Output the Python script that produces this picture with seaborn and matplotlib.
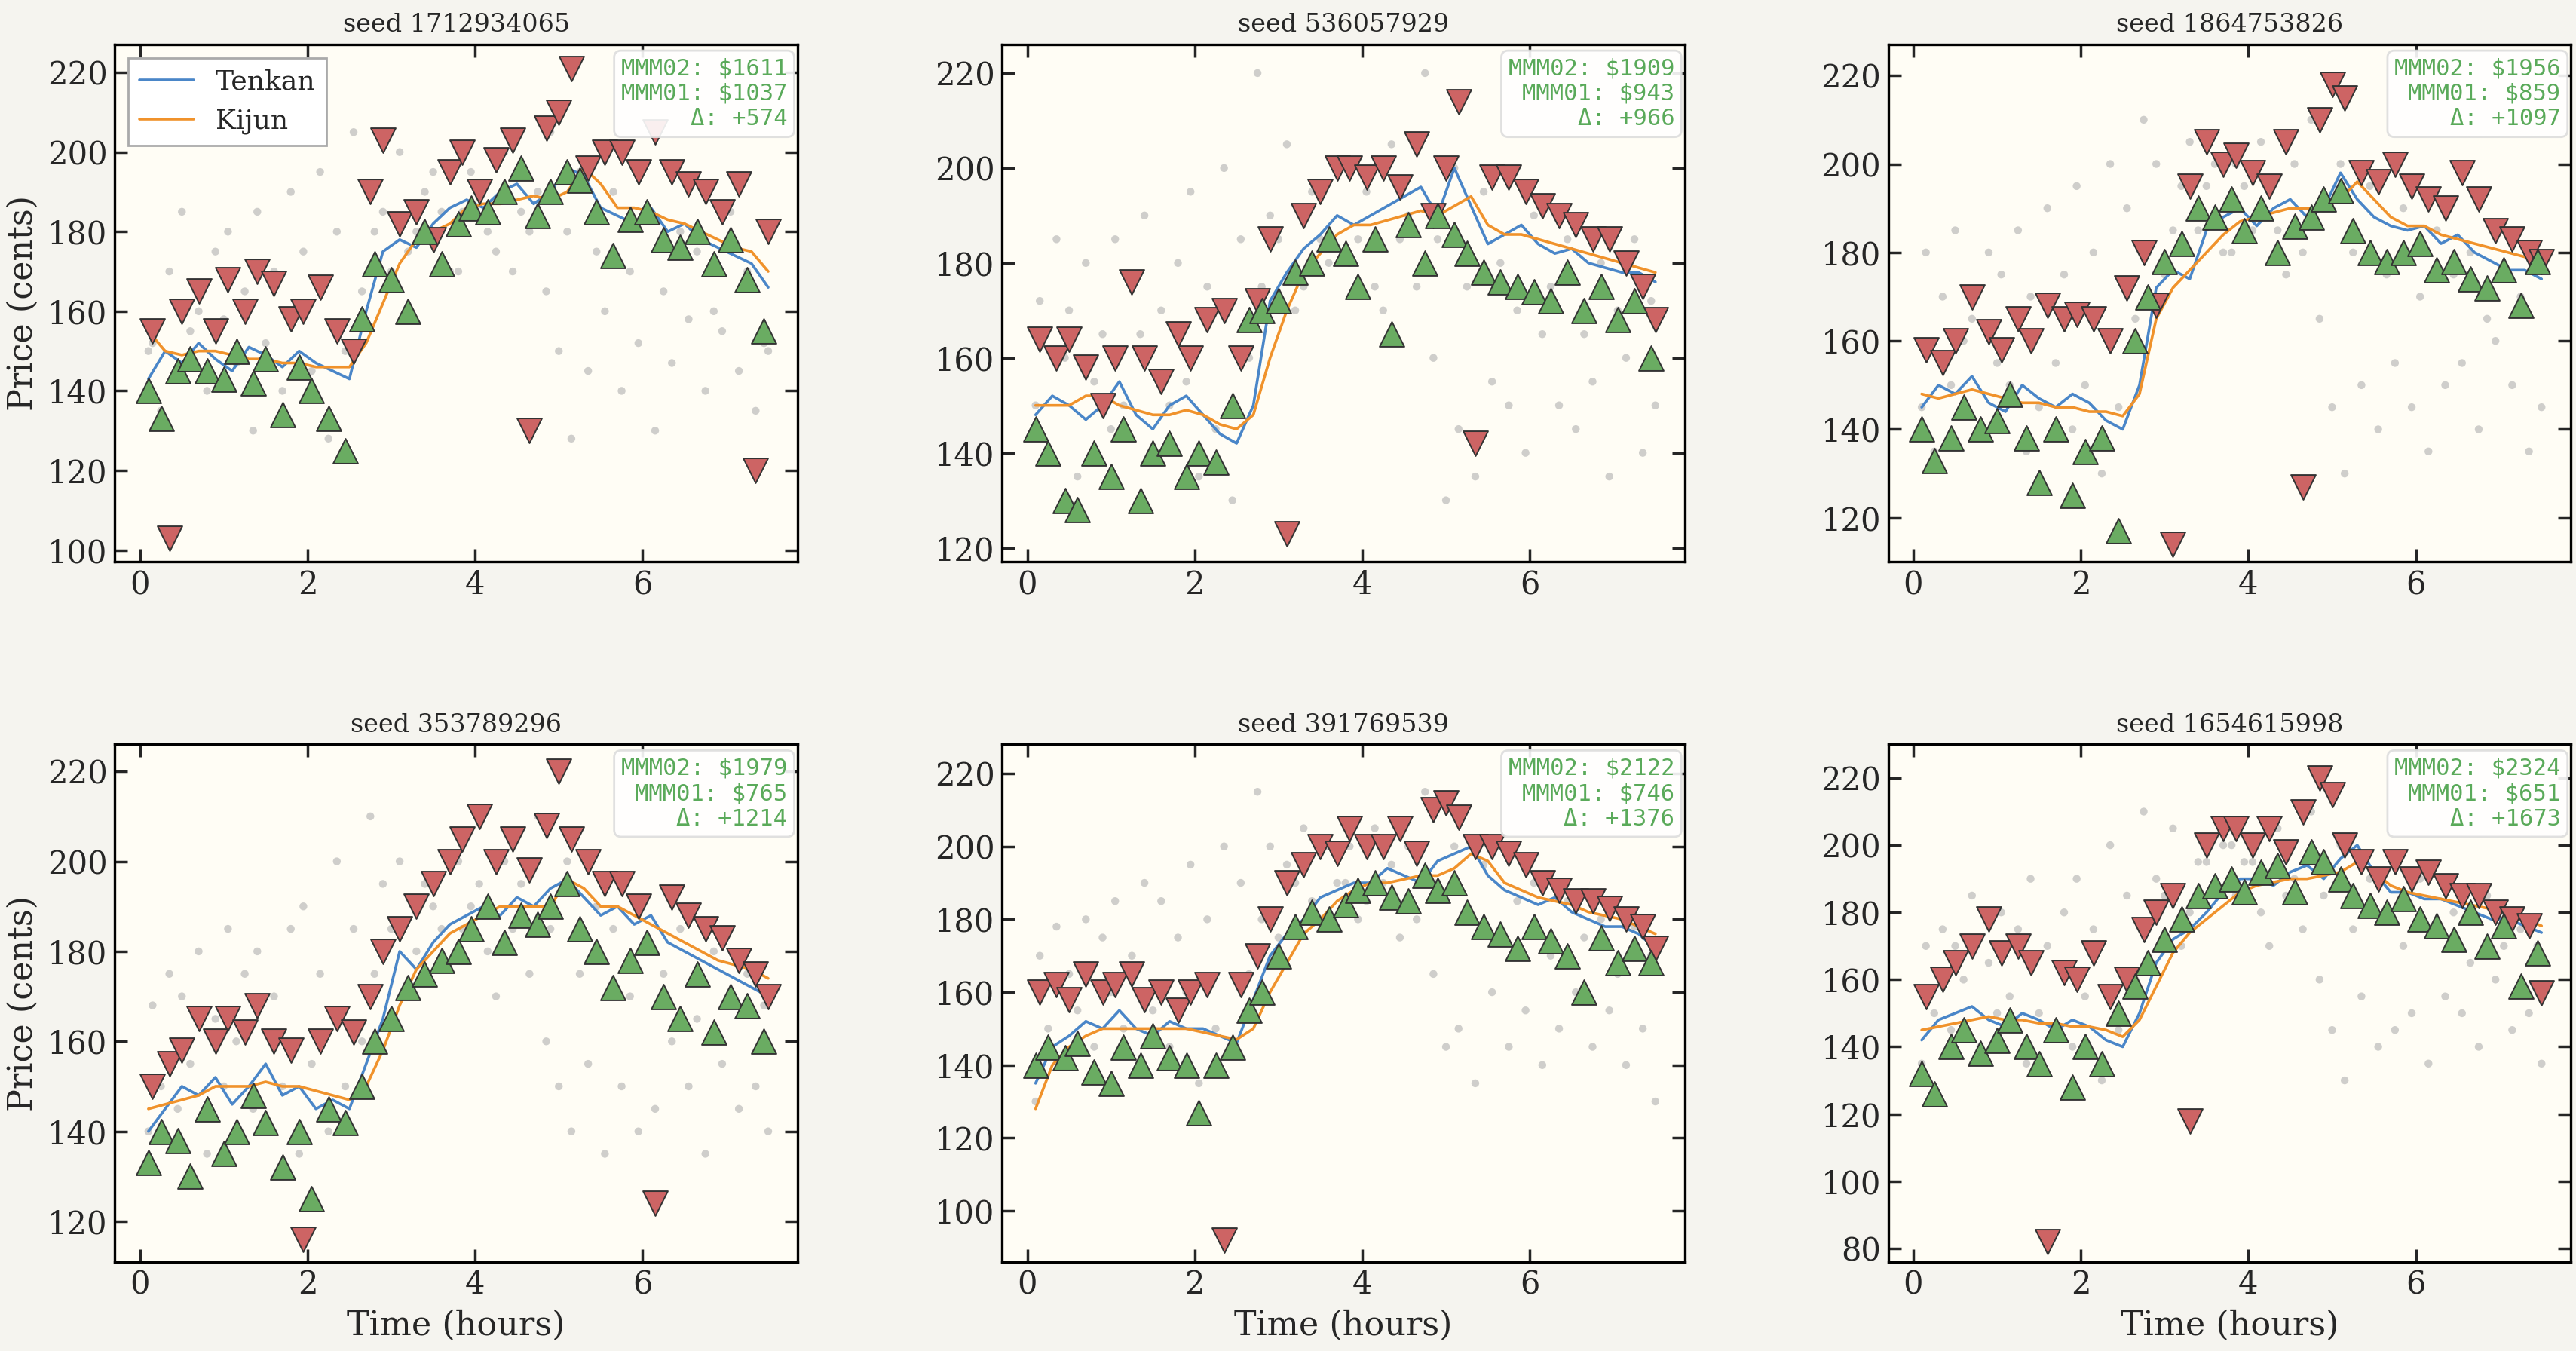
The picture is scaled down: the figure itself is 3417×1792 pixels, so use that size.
import matplotlib
matplotlib.use("Agg")
import matplotlib.pyplot as plt
import seaborn as sns
import pandas as pd

sns.set_theme(style="ticks")
plt.rcParams['font.family'] = ['DejaVu Serif']

seeds = [1712934065, 536057929, 1864753826, 353789296, 391769539, 1654615998]
mmm02 = [1611, 1909, 1956, 1979, 2122, 2324]
mmm01 = [1037, 943, 859, 765, 746, 651]
ylims = [(97, 227), (117, 226), (110, 227), (111, 226), (86, 228), (76, 230)]

time_grid = [0.1, 0.3, 0.5, 0.7, 0.9, 1.1, 1.3, 1.5, 1.7, 1.9, 2.1, 2.3, 2.5, 2.7, 2.9, 3.1, 3.3, 3.5, 3.7,
             3.9, 4.1, 4.3, 4.5, 4.7, 4.9, 5.1, 5.3, 5.5, 5.7, 5.9, 6.1, 6.3, 6.5, 6.7, 6.9, 7.1, 7.3, 7.5]
red_t = [0.15, 0.35, 0.5, 0.7, 0.9, 1.05, 1.25, 1.4, 1.6, 1.8, 1.95, 2.15, 2.35, 2.55, 2.75, 2.9, 3.1, 3.3, 3.5, 3.7,
         3.85, 4.05, 4.25, 4.45, 4.65, 4.85, 5.0, 5.15, 5.35, 5.55, 5.75, 5.95, 6.15, 6.35, 6.55, 6.75, 6.95, 7.15, 7.35, 7.5]
green_t = [0.1, 0.25, 0.45, 0.6, 0.8, 1.0, 1.15, 1.35, 1.5, 1.7, 1.9, 2.05, 2.25, 2.45, 2.65, 2.8, 3.0, 3.2, 3.4, 3.6,
           3.8, 3.95, 4.15, 4.35, 4.55, 4.75, 4.9, 5.1, 5.25, 5.45, 5.65, 5.85, 6.05, 6.25, 6.45, 6.65, 6.85, 7.05, 7.25, 7.45]

tenkan = [
    [143,150,147,152,148,145,151,149,146,150,147,145,143,160,175,178,176,182,186,188,186,190,192,187,190,196,194,186,184,182,186,180,182,178,176,174,172,166],
    [148,152,150,147,150,155,148,145,150,152,148,144,142,150,172,178,183,186,190,188,190,192,194,196,190,200,192,184,186,188,184,182,183,180,179,178,178,176],
    [145,150,148,152,146,144,150,147,145,148,146,142,140,150,172,176,174,185,188,190,186,190,192,188,190,198,192,188,186,185,186,182,184,180,178,176,176,174],
    [140,145,150,148,152,146,150,155,148,150,145,147,145,155,165,180,176,182,186,188,190,188,192,190,194,196,192,188,190,186,188,182,180,178,176,174,172,170],
    [135,145,148,152,150,155,150,148,152,150,150,148,146,158,170,176,180,186,188,190,190,194,192,190,196,198,200,192,188,186,184,186,182,180,178,178,176,172],
    [142,148,150,152,148,146,150,148,145,148,146,142,140,150,165,172,175,180,186,190,190,188,192,194,190,196,200,192,186,186,184,184,182,180,178,178,176,174],
]
kijun = [
    [155,150,149,150,150,149,148,148,147,147,146,146,146,152,162,172,178,180,182,186,187,187,188,189,188,190,196,192,186,186,185,183,182,180,178,176,175,170],
    [150,150,150,152,152,150,149,148,148,149,148,146,145,148,160,170,178,182,186,188,188,189,190,191,190,192,194,188,186,186,185,184,183,182,181,180,179,178],
    [148,147,148,149,148,147,146,146,145,145,144,144,143,148,165,172,176,180,184,187,188,189,190,190,190,192,196,192,188,186,186,184,183,182,181,180,179,178],
    [145,146,147,148,150,150,150,151,150,150,149,148,147,150,158,168,176,180,184,186,188,190,190,190,190,196,194,190,190,188,186,184,182,180,178,177,176,174],
    [128,140,145,148,150,150,150,150,150,150,149,148,147,150,160,168,176,180,185,188,190,190,191,192,192,194,198,196,190,188,186,185,184,182,181,180,178,176],
    [145,146,147,148,149,148,148,147,147,146,146,145,143,148,158,168,174,178,182,186,188,189,190,190,191,192,195,192,188,186,185,184,183,182,181,180,178,176],
]
red_p = [
    [155,103,160,165,155,168,160,170,167,158,160,166,155,150,190,203,182,185,178,195,200,190,198,203,130,206,210,221,196,200,200,195,205,195,192,190,185,192,120,180],
    [164,160,164,158,150,160,176,160,155,165,160,168,170,160,172,185,123,190,195,200,200,198,200,196,205,190,200,214,142,198,198,195,192,190,188,185,185,180,175,168],
    [158,155,160,170,162,158,165,160,168,165,166,165,160,172,180,168,114,195,205,200,202,198,195,205,127,210,218,215,198,196,200,195,192,190,198,192,185,183,180,178],
    [150,155,158,165,160,165,162,168,160,158,116,160,165,162,170,180,185,190,195,200,205,210,200,205,198,208,220,205,200,195,195,190,124,192,188,185,183,178,175,170],
    [160,162,158,165,160,162,165,158,160,155,160,162,92,162,170,180,190,195,200,198,205,200,200,205,198,210,212,208,200,200,198,195,190,188,185,185,183,180,178,172],
    [155,160,165,170,178,168,170,165,82,162,160,168,155,160,175,180,185,118,200,205,205,200,205,198,210,220,215,200,195,190,195,190,192,188,185,185,180,178,176,156],
]
green_p = [
    [140,133,145,148,145,143,150,142,148,134,146,140,133,125,158,172,168,160,180,172,182,186,185,190,196,184,190,195,193,185,174,183,185,178,176,180,172,178,168,155],
    [145,140,130,128,140,135,145,130,140,142,135,140,138,150,168,170,172,178,180,185,182,175,185,165,188,180,190,186,182,178,176,175,174,172,178,170,175,168,172,160],
    [140,133,138,145,140,142,148,138,128,140,125,135,138,117,160,170,178,182,190,188,192,185,190,180,186,188,192,194,185,180,178,180,182,176,178,174,172,176,168,178],
    [133,140,138,130,145,135,140,148,142,132,140,125,145,142,150,160,165,172,175,178,180,185,190,182,188,186,190,195,185,180,172,178,182,170,165,175,162,170,168,160],
    [140,145,142,146,138,135,145,140,148,142,140,127,140,145,155,160,170,178,182,180,184,188,190,186,185,192,188,190,182,178,176,172,178,174,170,160,175,168,172,168],
    [132,126,140,145,138,142,148,140,135,145,128,140,135,150,158,165,172,178,185,188,190,186,192,194,186,198,195,190,185,182,180,184,178,176,172,180,170,176,158,168],
]
grey_p = [
    [150,135,145,155,140,158,147,130,152,140,160,145,128,150,165,180,170,175,190,185,170,195,180,200,185,190,205,180,195,175,190,170,185,165,180,175,160,185,170,152],
    [150,140,160,135,155,145,150,165,140,150,155,135,145,130,160,175,185,170,195,180,200,185,175,205,190,220,185,200,175,195,180,170,190,175,185,165,180,170,185,172],
    [145,135,150,160,140,155,150,135,145,155,140,150,130,145,165,180,175,195,185,200,180,195,205,185,200,210,190,200,180,195,175,190,170,185,175,180,165,185,170,180],
    [140,150,145,155,135,150,160,145,140,150,135,155,140,150,160,175,185,170,195,185,200,190,180,200,195,210,185,200,175,190,185,170,180,175,185,165,180,170,175,168],
    [130,150,140,155,145,160,150,140,155,145,160,135,150,145,165,180,175,190,185,200,190,180,205,195,200,215,190,200,180,195,175,185,190,170,185,175,180,165,178,170],
    [135,150,145,160,140,150,155,135,150,145,140,155,130,145,160,175,185,170,195,185,200,195,180,205,190,210,185,200,175,190,180,170,190,175,180,165,185,170,175,170],
]

fig = plt.figure(figsize=(17.085, 8.96), dpi=200, facecolor="#f5f4ef")
lefts = [0.0446, 0.389, 0.733]
bottoms = [0.584, 0.066]
w, h = 0.265, 0.383

for i in range(6):
    r, c = divmod(i, 3)
    ax = fig.add_axes([lefts[c], bottoms[r], w, h])
    ax.set_facecolor("#fffdf5")
    sns.scatterplot(x=green_t, y=grey_p[i], ax=ax, color="#b0b0b0", alpha=0.6, s=14, edgecolor="none", zorder=1)
    sns.scatterplot(x=red_t, y=tenkan[i][:1] * 0 + grey_p[i][::-1], ax=ax, color="#b0b0b0", alpha=0.6, s=14,
                    edgecolor="none", zorder=1)
    line_df = pd.DataFrame({"t": time_grid, "Tenkan": tenkan[i], "Kijun": kijun[i]})
    sns.lineplot(data=line_df, x="t", y="Tenkan", ax=ax, color="#4a86c8", lw=1.3, label="Tenkan", zorder=2)
    sns.lineplot(data=line_df, x="t", y="Kijun", ax=ax, color="#f0922b", lw=1.3, label="Kijun", zorder=3)
    sns.scatterplot(x=red_t, y=red_p[i], ax=ax, marker="v", color="#cd6464", edgecolor="#333333",
                    linewidth=0.7, s=140, zorder=4)
    sns.scatterplot(x=green_t, y=green_p[i], ax=ax, marker="^", color="#6aac62", edgecolor="#333333",
                    linewidth=0.7, s=140, zorder=5)
    ax.set_ylim(*ylims[i])
    ax.set_xlim(-0.3, 7.85)
    ax.set_xticks([0, 2, 4, 6])
    ax.tick_params(direction="in", top=True, right=True, labelsize=15, length=6)
    for s in ax.spines.values():
        s.set_color("black")
        s.set_linewidth(1.2)
    ax.set_title(f"seed {seeds[i]}", fontsize=12)
    ax.set_xlabel("Time (hours)" if r == 1 else "", fontsize=16)
    ax.set_ylabel("Price (cents)" if c == 0 else "", fontsize=16)
    if i == 0:
        ax.legend(loc="upper left", fontsize=13, fancybox=False, edgecolor="#aaaaaa", framealpha=1)
    else:
        ax.get_legend().remove()
    d = mmm02[i] - mmm01[i]
    ax.text(0.985, 0.975, f"MMM02: ${mmm02[i]}\nMMM01: ${mmm01[i]}\nΔ: +{d}", transform=ax.transAxes,
            ha="right", va="top", family="DejaVu Sans Mono", fontsize=11, color="#5aaa5a", zorder=10,
            bbox=dict(boxstyle="round,pad=0.3", fc="white", ec="#dddddd", alpha=0.9))

fig.savefig("out.png", dpi=200, facecolor=fig.get_facecolor())
